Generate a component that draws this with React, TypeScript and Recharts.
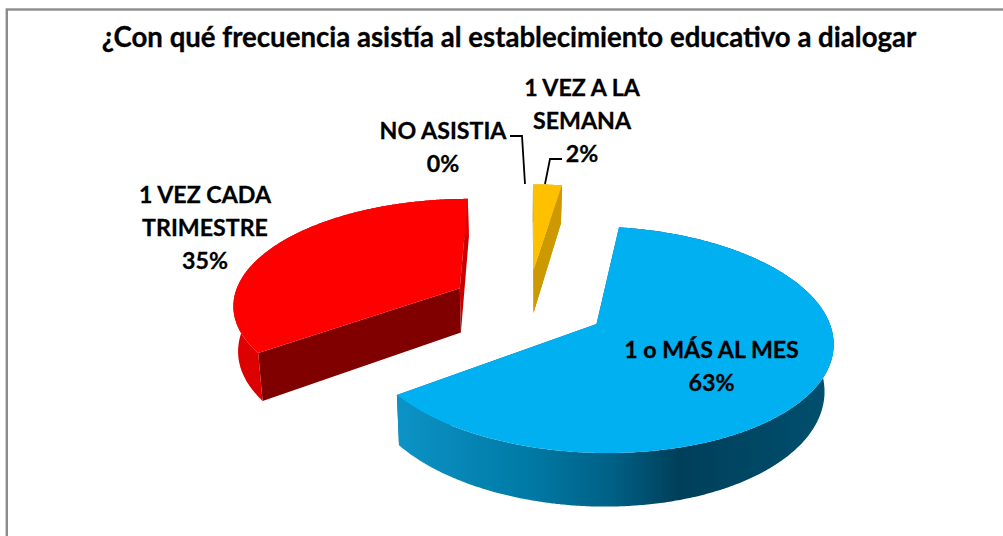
import React from "react";
import { PieChart, Pie } from "recharts";

const categories = ["NO ASISTIA", "1 VEZ A LA SEMANA", "1 o MÁS AL MES", "1 VEZ CADA TRIMESTRE"];
const values = [0, 2.4, 62.6, 35];
const topColors = ["#7f7f7f", "#FFC000", "#00B0F0", "#FF0000"];
const title = "¿Con qué frecuencia asistía al establecimiento educativo a dialogar";

const data = categories.map((name, i) => ({ name, value: values[i], fill: topColors[i] }));

const W = 1003, H = 536;
const CX = 528, CY = 304.5, R = 230;
const EXPLODE = 79, TILT = 0.46, PERSPECTIVE = 1690, DEPTH = 45;

type P = [number, number];
const project = (X: number, Y: number, low: boolean): P => {
  const s = PERSPECTIVE / (PERSPECTIVE - Y);
  const shrink = low ? (X < 0 ? 0.984 : 0.97) : 1;
  const x = 0.99 * X * s * shrink;
  const y = TILT * Y * s + (low ? DEPTH * s : 0);
  return [CX + x, CY + y];
};
const toPath = (pts: P[]) => "M" + pts.map((p) => p[0].toFixed(1) + "," + p[1].toFixed(1)).join("L") + "Z";

const sideStyles: Record<string, { cutEnd: string; cutStart: string; wall: string }> = {
  "#FFC000": { cutStart: "#8a6a00", cutEnd: "#cc9a00", wall: "#cc9a00" },
  "#00B0F0": { cutStart: "#006f98", cutEnd: "#006f98", wall: "url(#blueWall)" },
  "#FF0000": { cutStart: "#800000", cutEnd: "#c80000", wall: "#dc0000" },
};

function Slice3D(props: any) {
  const { startAngle, endAngle, outerRadius, fill } = props;
  const a0 = 90 - startAngle, a1 = 90 - endAngle;
  if (a1 - a0 < 0.01) return <g />;
  const rad = (d: number) => (d * Math.PI) / 180;
  const mid = rad((a0 + a1) / 2);
  const ox = EXPLODE * Math.sin(mid), oy = -EXPLODE * Math.cos(mid);
  const rim = (low: boolean) => {
    const pts: P[] = [];
    const n = Math.ceil(a1 - a0) * 2;
    for (let i = 0; i <= n; i++) {
      const t = rad(a0 + ((a1 - a0) * i) / n);
      pts.push(project(ox + outerRadius * Math.sin(t), oy - outerRadius * Math.cos(t), low));
    }
    return pts;
  };
  const top = rim(false), bot = rim(true);
  const apexT = project(ox, oy, false), apexB = project(ox, oy, true);
  const st = sideStyles[fill];
  const isYellow = fill === "#FFC000";
  const first = [apexT, top[0], bot[0], apexB];
  const last = [apexT, top[top.length - 1], bot[bot.length - 1], apexB];
  return (
    <g>
      <path d={toPath(last)} fill={st.cutEnd} />
      <path d={toPath(first)} fill={st.cutStart} />
      <path d={toPath([...top, ...bot.slice().reverse()])} fill={st.wall} />
      {isYellow && <path d={toPath(last)} fill={st.cutEnd} />}
      <path d={toPath([apexT, ...top])} fill={fill} />
    </g>
  );
}

const labelLayout: { x: number; lines: string[]; y: number }[] = [
  { x: 443, lines: ["NO ASISTIA"], y: 130 },
  { x: 582, lines: ["1 VEZ A LA", "SEMANA"], y: 87 },
  { x: 711.5, lines: ["1 o MÁS AL MES"], y: 349 },
  { x: 205, lines: ["1 VEZ CADA", "TRIMESTRE"], y: 194 },
];
const LINE = 33;
const FONT = "Lato, Carlito, sans-serif";

function SliceLabel(props: any) {
  const { index, percent } = props;
  const l = labelLayout[index];
  const rows = [...l.lines, Math.round(percent * 100) + "%"];
  return (
    <g>
      {rows.map((r, i) => (
        <text key={i} x={l.x} y={l.y + i * LINE} textAnchor="middle" dominantBaseline="central"
          fontFamily={FONT} fontWeight={700} fontSize={23.2} fill="#000" stroke="#000" strokeWidth={0.3}>{r}</text>
      ))}
      {index === 0 && <polyline points="510,136 522,136 525,184" fill="none" stroke="#000" strokeWidth={1.8} />}
      {index === 1 && <polyline points="562,159 550,159 545,184" fill="none" stroke="#000" strokeWidth={1.8} />}
    </g>
  );
}

export default function App() {
  return (
    <div style={{ position: "absolute", left: 0, top: 0, width: W, height: H, background: "#fff" }}>
      <PieChart width={W} height={H} margin={{ top: 0, right: 0, bottom: 0, left: 0 }}>
        <defs>
          <linearGradient id="blueWall" x1="0" y1="0" x2="1" y2="0">
            <stop offset="0" stopColor="#0c93c6" />
            <stop offset="0.3" stopColor="#007aa6" />
            <stop offset="0.5" stopColor="#005f84" />
            <stop offset="0.645" stopColor="#003f5a" />
            <stop offset="1" stopColor="#00506f" />
          </linearGradient>
        </defs>
        <rect x={6.8} y={9.5} width={1100} height={600} fill="#fff" stroke="#8c8c8c" strokeWidth={2.4} />
        <text x={509} y={36} textAnchor="middle" dominantBaseline="central" fontFamily={FONT} fontWeight={700} fontSize={27.6} fill="#000" stroke="#000" strokeWidth={0.3}>{title}</text>
        <Pie data={data} dataKey="value" nameKey="name" cx={CX} cy={CY} outerRadius={R} innerRadius={0}
          startAngle={90} endAngle={-270} stroke="none" isAnimationActive={false}
          shape={(p: any) => <Slice3D {...p} />} label={(p: any) => <SliceLabel {...p} />} labelLine={false} />
      </PieChart>
    </div>
  );
}
